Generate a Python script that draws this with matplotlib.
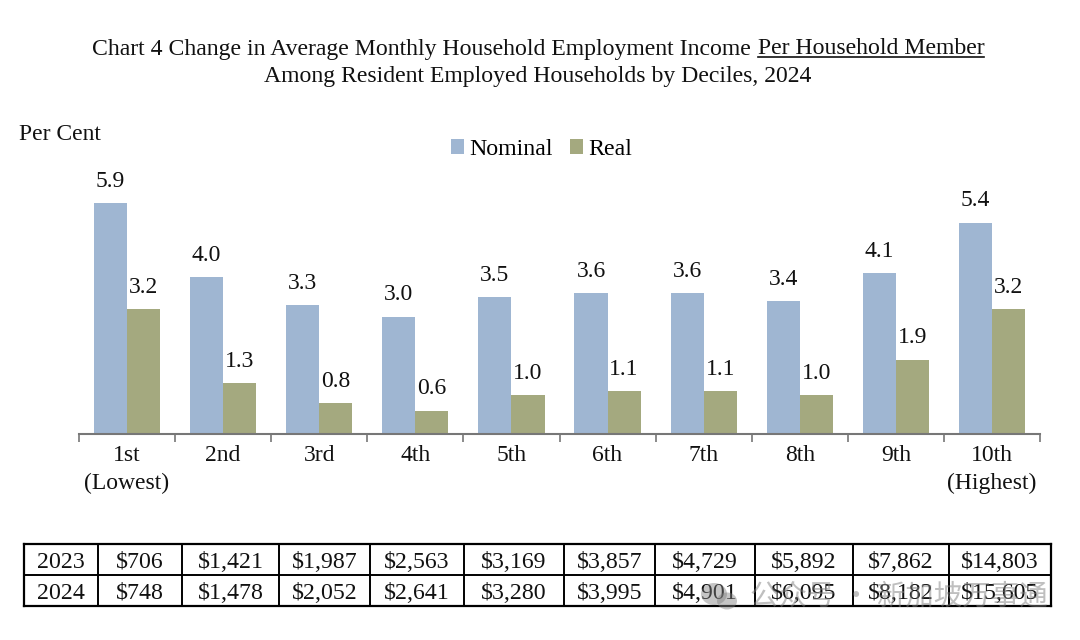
import matplotlib
matplotlib.use('Agg')
import matplotlib.pyplot as plt
from matplotlib.patches import Ellipse
import numpy as np

plt.rcParams['font.family'] = ['Liberation Serif', 'DejaVu Serif']

deciles = ['1st\n(Lowest)', '2nd', '3rd', '4th', '5th', '6th', '7th', '8th', '9th', '10th\n(Highest)']
nominal = [5.9, 4.0, 3.3, 3.0, 3.5, 3.6, 3.6, 3.4, 4.1, 5.4]
real = [3.2, 1.3, 0.8, 0.6, 1.0, 1.1, 1.1, 1.0, 1.9, 3.2]
row_2023 = ['$706', '$1,421', '$1,987', '$2,563', '$3,169', '$3,857', '$4,729', '$5,892', '$7,862', '$14,803']
row_2024 = ['$748', '$1,478', '$2,052', '$2,641', '$3,280', '$3,995', '$4,901', '$6,095', '$8,182', '$15,605']

W, H = 1080, 640
TXT = '#111111'
fig = plt.figure(figsize=(W / 100, H / 100), dpi=100)

#axes from x=79 to 1040, baseline at y=434, 5.9 reaches y=203
ax = fig.add_axes([79 / W, 1 - 434 / H, 961 / W, 260 / H])
x = np.arange(len(deciles))
b1 = ax.bar(x - 0.172, nominal, 0.345, color='#9fb6d2', label='Nominal')
b2 = ax.bar(x + 0.172, real, 0.345, color='#a4a97f', label='Real')
ax.bar_label(b1, fmt='%.1f', padding=8, fontsize=17, color=TXT)
ax.bar_label(b2, fmt='%.1f', padding=8, fontsize=17, color=TXT)

ax.set_xlim(-0.5, 9.5)
ax.set_ylim(0, 260 / (231 / 5.9))
ax.set_yticks([])
for s in ['top', 'left', 'right']:
    ax.spines[s].set_visible(False)
ax.spines['bottom'].set_color('#777777')
ax.spines['bottom'].set_linewidth(1.5)
ax.set_xticks(np.arange(-0.5, 10, 1))
ax.set_xticklabels([])
ax.tick_params(axis='x', length=6, width=1.2, color='#777777', direction='out')
ax.patch.set_alpha(0)

for i, lab in enumerate(deciles):
    ax.annotate(lab, (i, 0), xytext=(0, -8), textcoords='offset points', ha='center', va='top',
                fontsize=17, linespacing=1.42, color=TXT)

ax.legend(loc='center', bbox_to_anchor=(541.5 / W, 1 - 149.5 / H), bbox_transform=fig.transFigure, ncol=2,
          frameon=False, fontsize=17.2, handlelength=0.54, handleheight=0.54, handletextpad=0.2,
          columnspacing=0.75, borderpad=0, borderaxespad=0)

fig.text(92 / W, 1 - 49 / H, 'Chart 4 Change in Average Monthly Household Employment Income', fontsize=17.1, va='center', color=TXT)
fig.text(758 / W, 1 - 49 / H, 'Per Household Member', fontsize=17.1, va='center', color=TXT)
fig.add_artist(plt.Line2D([758 / W, 984 / W], [1 - 57 / H, 1 - 57 / H], color=TXT, lw=1.2))
fig.text(537.5 / W, 1 - 76.5 / H, 'Among Resident Employed Households by Deciles, 2024', fontsize=17.1, ha='center', va='center', color=TXT)
fig.text(19 / W, 1 - 135 / H, 'Per Cent', fontsize=17, va='center', color=TXT)

#table under the chart
tab = fig.add_axes([24 / W, 1 - 606 / H, 1027 / W, 62 / H])
tab.set_xlim(24, 1051)
tab.set_ylim(2, 0)
tab.set_xticks([])
tab.set_yticks([])
for s in tab.spines.values():
    s.set_linewidth(1.6)
edges = [24, 98, 182, 279, 370, 464, 564, 655, 755, 853, 949, 1051]
for e in edges[1:-1]:
    tab.axvline(e, color='black', lw=1.4)
tab.axhline(1, color='black', lw=1.4)
for r, (yr, vals) in enumerate([('2023', row_2023), ('2024', row_2024)]):
    cells = [yr] + vals
    for c, s in enumerate(cells):
        tab.text((edges[c] + edges[c + 1]) / 2, r + 0.59, s, ha='center', va='center', fontsize=17.2, color=TXT)

#watermark over the bottom right of the table
fig.text(750 / W, 1 - 597 / H, '公众号 · 新加坡万事通', fontsize=20.5, va='center', color='#808080', alpha=0.5,
         family=['Noto Sans CJK SC', 'DejaVu Sans'])
fig.add_artist(Ellipse((714 / W, 1 - 594 / H), 26 / W, 22 / H, color='#808080', alpha=0.45, lw=0))
fig.add_artist(Ellipse((727 / W, 1 - 601 / H), 20 / W, 17 / H, color='#808080', alpha=0.45, lw=0))

fig.savefig('out.png', dpi=100)
